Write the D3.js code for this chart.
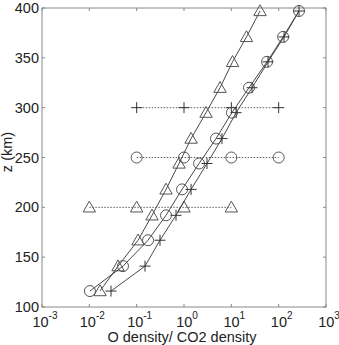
<!DOCTYPE html>
<html><head><meta charset="utf-8">
<script src="https://cdn.jsdelivr.net/npm/d3@7"></script>
<style>body{margin:0;background:#fff}svg{display:block}</style>
</head><body><svg id="c" width="339" height="345"></svg>
<script>
const altitudes = [116,141,167,192,218,244,269,295,320,346,371,397];
const triangleVals = [0.0168,0.0404,0.107,0.211,0.417,0.785,1.41,2.92,5.77,10.6,20.9,40.4];
const circleVals = [0.0103,0.0514,0.174,0.417,0.908,2.08,4.75,10.3,23.6,56.8,124,269];
const crossVals = [0.0287,0.150,0.311,0.678,1.41,3.06,6.35,12.6,27.4,59.6,130,269];
const refCross = {z:300, vals:[0.1,1,10,100]};
const refCircle = {z:250, vals:[0.1,1,10,100]};
const refTri = {z:200, vals:[0.01,0.1,1,10]};
const xTicks = [1e-3,1e-2,1e-1,1,10,100,1000];
const xExps = ["-3","-2","-1","0","1","2","3"];
const yTicks = [100,150,200,250,300,350,400];

const svg = d3.select("#c");
const L=42,R=326,T=8,B=307;
const x = d3.scaleLog().domain([1e-3,1e3]).range([L,R]);
const y = d3.scaleLinear().domain([100,400]).range([B,T]);
const font = "Liberation Sans, Arial, sans-serif";
const lineCol="#333", mkCol="#555";
const fs = 14.5;

const g = svg.append("g");
xTicks.forEach(t=>{
  g.append("line").attr("x1",x(t)).attr("x2",x(t)).attr("y1",B).attr("y2",B-3).attr("stroke","#888");
  g.append("line").attr("x1",x(t)).attr("x2",x(t)).attr("y1",T).attr("y2",T+3).attr("stroke","#888");
});
yTicks.forEach(t=>{
  g.append("line").attr("x1",L).attr("x2",L+3).attr("y1",y(t)).attr("y2",y(t)).attr("stroke","#888");
  g.append("line").attr("x1",R).attr("x2",R-3).attr("y1",y(t)).attr("y2",y(t)).attr("stroke","#888");
  g.append("text").attr("x",L-3).attr("y",y(t)+5).attr("text-anchor","end")
    .attr("font-family",font).attr("font-size",fs).attr("fill","#222").text(t);
});
xTicks.forEach((t,i)=>{
  const tx = g.append("text").attr("x",x(t)+3).attr("y",327).attr("text-anchor","middle")
    .attr("font-family",font).attr("font-size",fs).attr("fill","#222");
  tx.append("tspan").text("10");
  tx.append("tspan").attr("dy",-8).attr("font-size",10).text(xExps[i]);
});
g.append("rect").attr("x",L).attr("y",T).attr("width",R-L).attr("height",B-T)
  .attr("fill","none").attr("stroke","#888").attr("stroke-width",1);

svg.append("text").attr("x",182).attr("y",342).attr("text-anchor","middle")
  .attr("font-family",font).attr("font-size",fs).attr("fill","#222").text("O density/ CO2 density");
svg.append("text").attr("transform","translate(12,152) rotate(-90)").attr("text-anchor","middle")
  .attr("font-family",font).attr("font-size",fs).attr("fill","#222").text("z (km)");

const line = d3.line().x(d=>x(d[0])).y(d=>y(d[1]));
function series(vals){ return vals.map((v,i)=>[v,altitudes[i]]); }

function drawMarker(sel, type, px, py){
  if(type==="tri"){
    const s=6.2;
    sel.append("path").attr("d",`M${px},${py-s}L${px+s*1.0},${py+s*0.75}L${px-s*1.0},${py+s*0.75}Z`)
      .attr("fill","none").attr("stroke",mkCol).attr("stroke-width",1);
  } else if(type==="circ"){
    sel.append("circle").attr("cx",px).attr("cy",py).attr("r",5.5)
      .attr("fill","none").attr("stroke",mkCol).attr("stroke-width",1);
  } else {
    const s=5.5;
    sel.append("path").attr("d",`M${px-s},${py}H${px+s}M${px},${py-s}V${py+s}`)
      .attr("fill","none").attr("stroke","#333").attr("stroke-width",1);
  }
}

[[refCross,"cross"],[refCircle,"circ"],[refTri,"tri"]].forEach(([r,type])=>{
  svg.append("line").attr("x1",x(r.vals[0])).attr("x2",x(r.vals[r.vals.length-1]))
    .attr("y1",y(r.z)).attr("y2",y(r.z)).attr("stroke","#333").attr("stroke-width",0.8)
    .attr("stroke-dasharray","1.5,1.5");
  r.vals.forEach(v=>drawMarker(svg,type,x(v),y(r.z)));
});

[[triangleVals,"tri"],[circleVals,"circ"],[crossVals,"cross"]].forEach(([vals,type])=>{
  const d = series(vals);
  svg.append("path").datum(d).attr("d",line).attr("fill","none").attr("stroke",lineCol).attr("stroke-width",0.9);
  d.forEach(p=>drawMarker(svg,type,x(p[0]),y(p[1])));
});
</script></body></html>
